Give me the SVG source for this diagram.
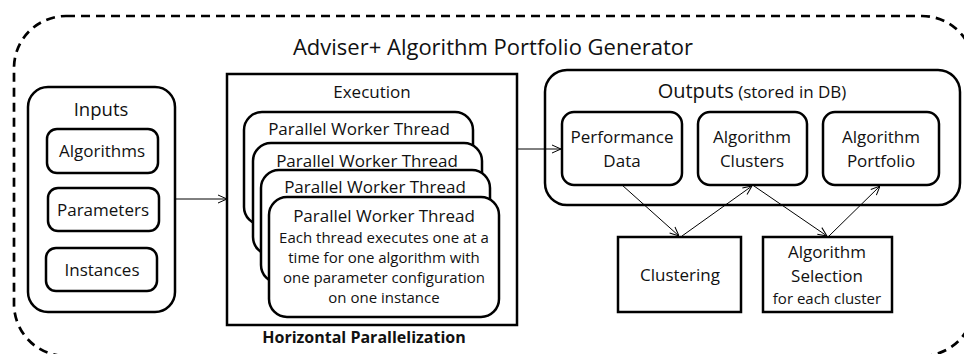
<svg xmlns="http://www.w3.org/2000/svg" width="964" height="354" viewBox="0 0 964 354">
<defs>
<style>
text{font-family:"Open Sans","Liberation Sans",sans-serif;fill:#111;text-anchor:middle}
.box{fill:#fff;stroke:#000;stroke-width:2.5}
.sq{fill:#fff;stroke:#000;stroke-width:2.5}
.conn{fill:none;stroke:#000;stroke-width:1}
.title{font-size:22px}
.t20{font-size:20px}
.t17{font-size:17px}
.t16{font-size:15px}
.t15{font-size:15px}
.th{font-size:17px}
</style>
<marker id="arr" viewBox="0 0 10 10" refX="10" refY="5" markerWidth="10" markerHeight="10" markerUnits="userSpaceOnUse" orient="auto">
<path d="M1,1 L10,5 L1,9" fill="none" stroke="#000" stroke-width="1"/>
</marker>
</defs>
<rect id="outer" x="14" y="16" width="960" height="340" rx="52" fill="none" stroke="#000" stroke-width="2.7" stroke-dasharray="9,6"/>
<text class="title" x="493" y="55">Adviser+ Algorithm Portfolio Generator</text>

<g id="inputs">
<rect class="box" x="28" y="87" width="147" height="225" rx="20"/>
<text x="101" y="116" font-size="18.5">Inputs</text>
</g>
<g id="algorithms">
<rect class="box" x="47" y="129" width="111" height="44" rx="10"/>
<text class="t17" x="102" y="157">Algorithms</text>
</g>
<g id="parameters">
<rect class="box" x="48" y="188" width="111" height="43" rx="10"/>
<text class="t17" x="103" y="216">Parameters</text>
</g>
<g id="instances">
<rect class="box" x="46" y="248" width="111" height="43" rx="10"/>
<text class="t17" x="102" y="276">Instances</text>
</g>

<g id="execution">
<rect class="sq" x="227" y="74" width="290" height="251" stroke-width="2.2"/>
<text class="t17" x="372" y="98">Execution</text>
<text x="364" y="343" font-size="16" font-weight="bold">Horizontal Parallelization</text>
</g>
<g id="thread1">
<rect class="box" x="244" y="112" width="229" height="113" rx="18"/>
<text class="th" x="359" y="135">Parallel Worker Thread</text>
</g>
<g id="thread2">
<rect class="box" x="253" y="143" width="229" height="112" rx="18"/>
<text class="th" x="367" y="167">Parallel Worker Thread</text>
</g>
<g id="thread3">
<rect class="box" x="261" y="170" width="229" height="113" rx="18"/>
<text class="th" x="375" y="193">Parallel Worker Thread</text>
</g>
<g id="thread4">
<rect class="box" x="269" y="197" width="230" height="120" rx="18"/>
<text class="th" x="384" y="222">Parallel Worker Thread</text>
<text class="t16" x="384" y="243">Each thread executes one at a</text>
<text class="t16" x="384" y="263">time for one algorithm with</text>
<text class="t16" x="384" y="283">one parameter configuration</text>
<text class="t16" x="384" y="303">on one instance</text>
</g>

<g id="outputs">
<rect class="box" x="545" y="70" width="415" height="135" rx="22"/>
<text x="752" y="98"><tspan class="t20">Outputs</tspan><tspan font-size="17"> (stored in DB)</tspan></text>
</g>
<g id="performance">
<rect class="box" x="562" y="112" width="120" height="73" rx="12"/>
<text class="t17" x="622" y="143">Performance</text>
<text class="t17" x="622" y="167">Data</text>
</g>
<g id="clusters">
<rect class="box" x="698" y="112" width="109" height="73" rx="12"/>
<text class="t17" x="752" y="143">Algorithm</text>
<text class="t17" x="752" y="167">Clusters</text>
</g>
<g id="portfolio">
<rect class="box" x="823" y="112" width="116" height="73" rx="12"/>
<text class="t17" x="881" y="143">Algorithm</text>
<text class="t17" x="881" y="167">Portfolio</text>
</g>
<g id="clustering">
<rect class="sq" x="618" y="237" width="123" height="75"/>
<text class="t17" x="680" y="281">Clustering</text>
</g>
<g id="selection">
<rect class="sq" x="763" y="237" width="129" height="75"/>
<text class="t17" x="827" y="258">Algorithm</text>
<text class="t17" x="827" y="282">Selection</text>
<text class="t15" x="827" y="304">for each cluster</text>
</g>

<g id="connectors">
<line class="conn" x1="175" y1="199" x2="227" y2="199" marker-end="url(#arr)"/>
<line class="conn" x1="517" y1="149" x2="561" y2="149" marker-end="url(#arr)"/>
<line class="conn" x1="622" y1="185" x2="679" y2="236" marker-end="url(#arr)"/>
<line class="conn" x1="682" y1="236" x2="752" y2="186" marker-end="url(#arr)"/>
<line class="conn" x1="754" y1="186" x2="827" y2="236" marker-end="url(#arr)"/>
<line class="conn" x1="829" y1="236" x2="880" y2="186" marker-end="url(#arr)"/>
</g>
</svg>
